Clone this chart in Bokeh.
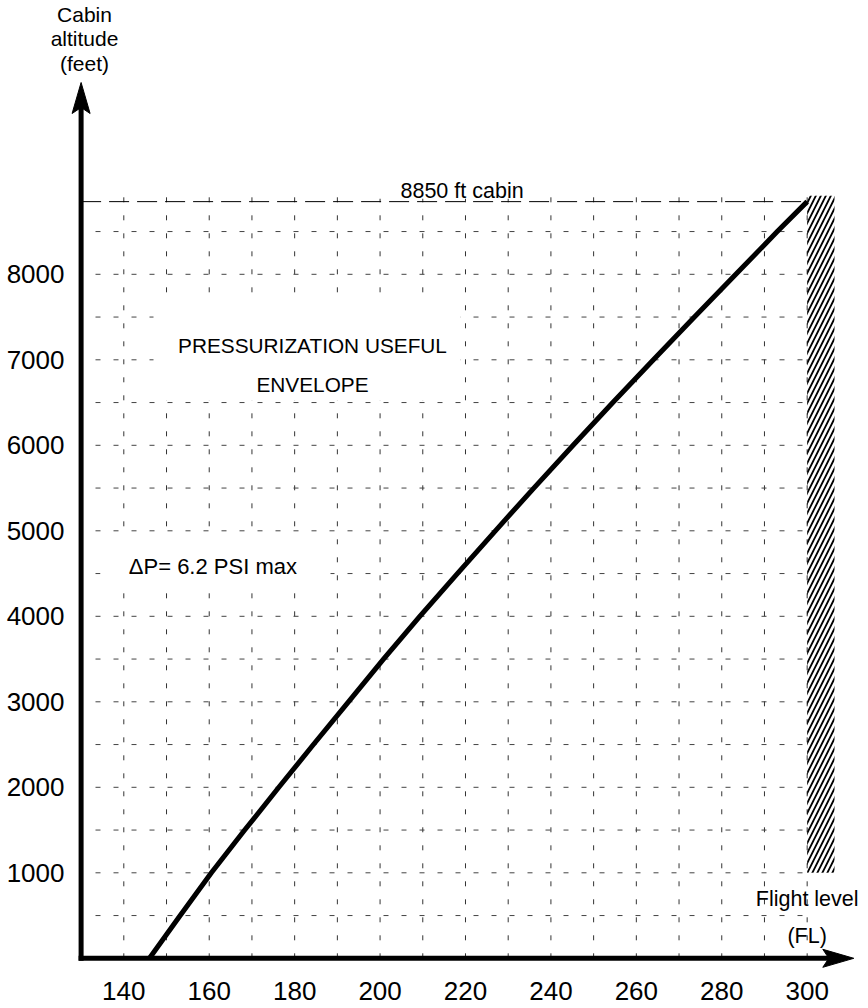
from bokeh.plotting import figure
from bokeh.models import Range1d
from bokeh.core.properties import value
from bokeh.embed import file_html
from bokeh.resources import INLINE

# ---------------- data ----------------
cabin_altitude = [0, 500, 1000, 1500, 2000, 2500, 3000, 3500, 4000, 4500,
                  5000, 5500, 6000, 6500, 7000, 7500, 8000, 8500, 8850]
flight_level = [146, 153.2, 160.5, 168.3, 176.3, 184.4, 192.6, 200.8, 209.3, 218.1,
                227.0, 236.0, 245.2, 254.5, 264.0, 273.6, 283.3, 293.0, 300]
x_ticks = [140, 160, 180, 200, 220, 240, 260, 280, 300]
x_tick_labels = ["140", "160", "180", "200", "220", "240", "260", "280", "300"]
y_ticks = [1000, 2000, 3000, 4000, 5000, 6000, 7000, 8000]
y_tick_labels = ["1000", "2000", "3000", "4000", "5000", "6000", "7000", "8000"]
fl_grid = [140, 150, 160, 170, 180, 190, 200, 210, 220, 230, 240, 250, 260,
           270, 280, 290, 300]
alt_grid = [500, 1000, 1500, 2000, 2500, 3000, 3500, 4000, 4500, 5000, 5500,
            6000, 6500, 7000, 7500, 8000, 8500]
max_cabin = 8850
max_fl = 300
fl_origin = 130
hatch_fl = [300, 306.4]
hatch_alt = [1000, 8920]
ylabel_lines = ["Cabin", "altitude", "(feet)"]
xlabel_lines = ["Flight level", "(FL)"]
envelope_lines = ["PRESSURIZATION USEFUL", "ENVELOPE"]
dp_label = "\u0394P= 6.2 PSI max"
cabin_label = "8850 ft cabin"

# ---------------- layout ----------------
W, H = 866, 1006
PXX = 4.271              # px per FL
PXY = 0.0855             # px per ft
X0 = fl_origin - 80.6 / PXX
X1 = X0 + W / PXX
Y1 = 957.8 / PXY
Y0 = Y1 - H / PXY


def fx(px):
    return X0 + px / PXX


def fy(py):
    return Y1 - py / PXY


FONT = value("Liberation Sans")

p = figure(width=W, height=H, x_range=Range1d(X0, X1), y_range=Range1d(Y0, Y1),
           x_axis_location=None, y_axis_location=None, toolbar_location=None,
           output_backend="svg", min_border=0, outline_line_color=None,
           background_fill_color="white", border_fill_color="white")
p.xgrid.visible = False
p.ygrid.visible = False

# grid
grid_top = 9000
p.segment(x0=fl_grid, y0=[0] * len(fl_grid), x1=fl_grid, y1=[grid_top] * len(fl_grid),
          line_color="#333333", line_width=1, line_dash="5 13")
p.segment(x0=[fx(95)] * len(alt_grid), y0=alt_grid, x1=[max_fl] * len(alt_grid), y1=alt_grid,
          line_color="#444444", line_width=1, line_dash="5 13")

# white boxes behind the text labels
p.quad(left=[fx(153), fx(100), fx(374)], right=[fx(460), fx(330), fx(532)],
       bottom=[fy(400), fy(590), max_cabin + 3 / PXY],
       top=[fy(303), fy(537), max_cabin + 24 / PXY],
       fill_color="white", line_color=None)

# max cabin dashed line
p.line([fl_origin, max_fl], [max_cabin, max_cabin], line_color="black",
       line_width=1, line_dash="20 8")

# hatched limit
p.quad(left=[hatch_fl[0]], right=[hatch_fl[1]], bottom=[hatch_alt[0]], top=[hatch_alt[1]],
       fill_color=None, line_color=None, hatch_pattern="/", hatch_color="black",
       hatch_scale=10, hatch_weight=1.8)

# curve
p.line(flight_level, cabin_altitude, line_color="black", line_width=5,
       line_join="round")

# axes with arrows
head_len, head_notch, head_half = 31, 25, 9
y_tip = fy(82)
p.line([fl_origin, fl_origin], [0, y_tip - head_notch / PXY], line_color="black",
       line_width=5, line_cap="square")
p.patch([fl_origin, fl_origin - head_half / PXX, fl_origin, fl_origin + head_half / PXX],
        [y_tip, y_tip - head_len / PXY, y_tip - head_notch / PXY, y_tip - head_len / PXY],
        color="black")
x_tip = fx(853.3)
p.line([fl_origin, x_tip - head_notch / PXX], [0, 0], line_color="black",
       line_width=5, line_cap="square")
p.patch([x_tip, x_tip - head_len / PXX, x_tip - head_notch / PXX, x_tip - head_len / PXX],
        [0, head_half / PXY, 0, -head_half / PXY], color="black")

# tick labels
p.text(x=[fx(64)] * len(y_ticks), y=y_ticks, text=y_tick_labels, text_font=FONT,
       text_font_size=value("26px"), text_align="right", text_baseline="middle",
       text_color="black")
p.text(x=x_ticks, y=[fy(990)] * len(x_ticks), text=x_tick_labels, text_font=FONT,
       text_font_size=value("26px"), text_align="center", text_baseline="middle",
       text_color="black")

# axis titles
p.text(x=[fx(84)] * 3, y=[fy(14), fy(37.5), fy(62.5)], text=ylabel_lines, text_font=FONT,
       text_font_size=value("21px"), text_align="center", text_baseline="middle",
       text_color="black")
p.text(x=[max_fl, max_fl], y=[fy(898), fy(935)], text=xlabel_lines, text_font=FONT,
       text_font_size=value("21.5px"), text_align="center", text_baseline="middle",
       text_color="black")

# annotations
p.text(x=[fx(312), fx(312)], y=[fy(344.5), fy(383.7)], text=envelope_lines, text_font=FONT,
       text_font_size=value("20.8px"), text_align="center", text_baseline="middle",
       text_color="black")
p.text(x=[fx(128.3)], y=[fy(565.8)], text=[dp_label], text_font=FONT,
       text_font_size=value("22px"), text_align="left", text_baseline="middle",
       text_color="black")
p.text(x=[fx(400)], y=[max_cabin + 10.5 / PXY], text=[cabin_label], text_font=FONT,
       text_font_size=value("21.5px"), text_align="left", text_baseline="middle",
       text_color="black")

open("out.html", "w").write(file_html(p, INLINE))
